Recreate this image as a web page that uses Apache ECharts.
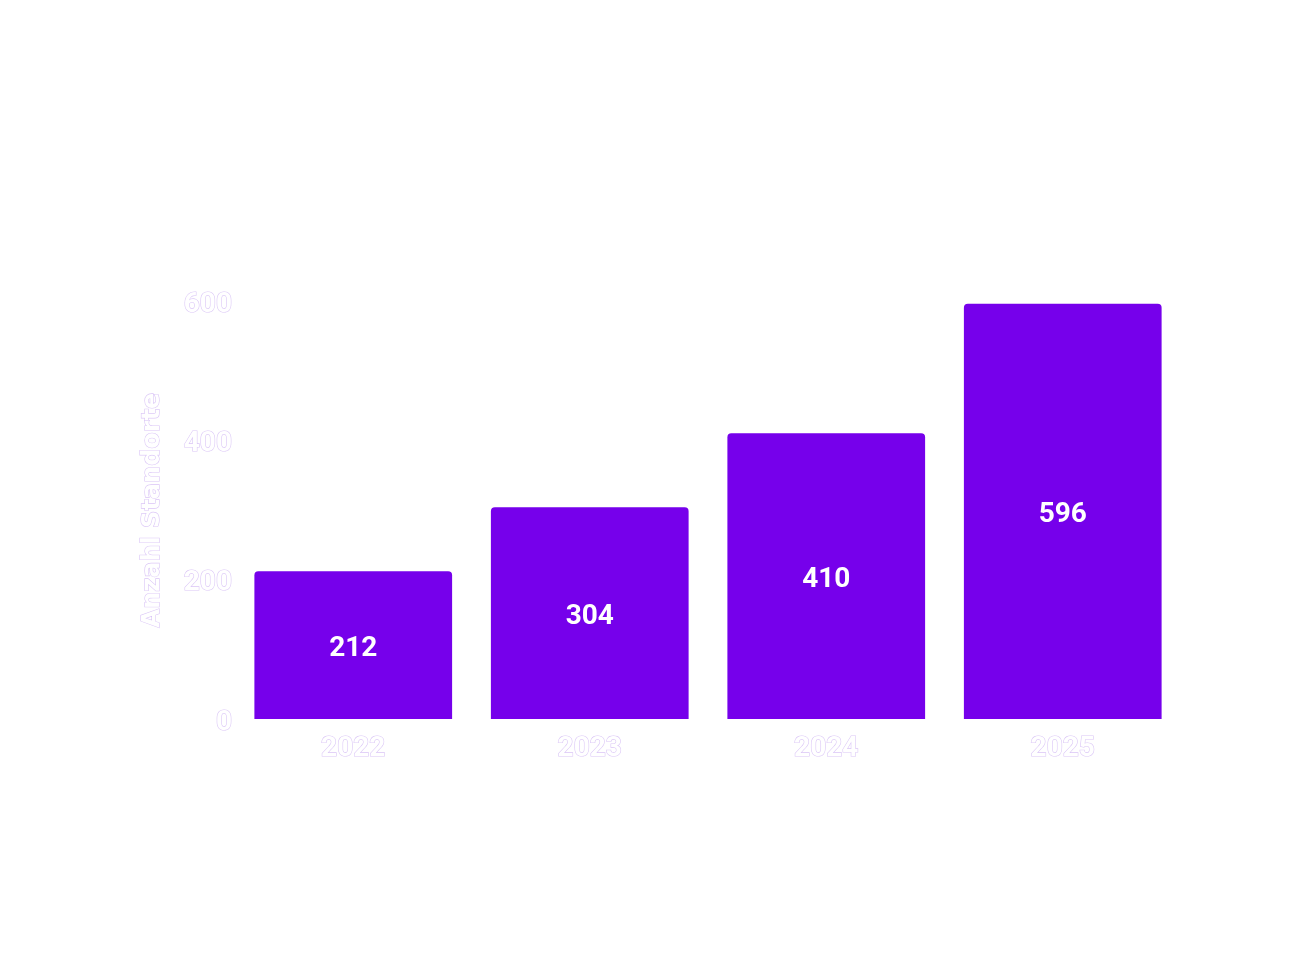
<!DOCTYPE html>
<html><head><meta charset="utf-8">
<script src="https://cdn.jsdelivr.net/npm/echarts@6/dist/echarts.min.js"></script>
<style>html,body{margin:0;padding:0;background:#fff}#c{width:1313px;height:969px}</style>
</head><body><div id="c"></div>
<script>
const categories = ['2022', '2023', '2024', '2025'];
const values = [212, 304, 410, 596];
const yTicks = [0, 200, 400, 600];
const yAxisName = 'Anzahl Standorte';

const ghost = {
  color: '#ffffff',
  textBorderColor: 'rgba(150,90,230,0.35)',
  textBorderWidth: 1.2,
  fontFamily: 'Roboto',
  fontWeight: 'bold'
};
const chart = echarts.init(document.getElementById('c'));
chart.setOption({
  backgroundColor: '#ffffff',
  animation: false,
  grid: { left: 235, right: 132, top: 301, bottom: 250, containLabel: false },
  xAxis: {
    type: 'category', data: categories,
    axisLine: { show: false }, axisTick: { show: false },
    axisLabel: Object.assign({}, ghost, { fontSize: 28, margin: 16 })
  },
  yAxis: {
    type: 'value', min: yTicks[0], max: yTicks[yTicks.length - 1], interval: 200,
    name: yAxisName, nameLocation: 'middle', nameGap: 70, nameRotate: 90,
    nameTextStyle: Object.assign({}, ghost, { fontSize: 24, fontFamily: 'DejaVu Sans' }),
    axisLine: { show: false }, axisTick: { show: false },
    splitLine: { show: false },
    axisLabel: {
      margin: 3,
      formatter: function (v) { return '{t|' + v + '}'; },
      rich: { t: Object.assign({}, ghost, { fontSize: 28, padding: [7, 0, 0, 0] }) }
    }
  },
  series: [{
    type: 'bar', data: values, barCategoryGap: '16.4%',
    itemStyle: { color: '#7600EB', borderRadius: [4, 4, 0, 0] },
    label: { show: true, position: 'inside', offset: [0, 4], color: '#ffffff', fontSize: 28, fontWeight: 'bold', fontFamily: 'Roboto' }
  }]
});
</script></body></html>
